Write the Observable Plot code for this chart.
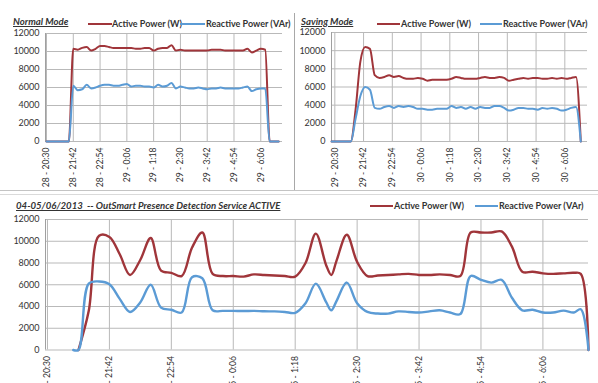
<!DOCTYPE html>
<html>
<head>
<meta charset="utf-8">
<script src="https://cdn.jsdelivr.net/npm/d3@7"></script>
<script src="https://cdn.jsdelivr.net/npm/@observablehq/plot@0.6"></script>
<style>
  html, body { margin: 0; padding: 0; background: #fff; }
  body { width: 598px; height: 383px; overflow: hidden; position: relative; font-family: Lato, "Open Sans", sans-serif; color: #333; }
  .abs { position: absolute; }
  .title { font-weight: bold; font-style: italic; text-decoration: underline; font-size: 9.6px; line-height: 10px; white-space: nowrap; color: #333; }
  .leg { font-weight: bold; font-size: 9px; line-height: 9px; white-space: nowrap; color: #333; }
  .sw { height: 2px; }
</style>
</head>
<body>
<div id="tl" class="abs" style="left:0;top:24px"></div>
<div id="tr" class="abs" style="left:298px;top:24px"></div>
<div id="bt" class="abs" style="left:0;top:212px"></div>

<div class="abs" style="left:294px;top:13px;width:1px;height:177px;background:#a8a8a8"></div>
<div class="abs" style="left:0;top:190px;width:598px;height:1px;background:#c4c4c4"></div>
<div class="abs" style="left:0;top:194px;width:598px;height:1px;background:#dadada"></div>

<div class="abs title" style="left:13px;top:16.5px">Normal Mode</div>
<div class="abs sw" style="left:88px;top:22.5px;width:24px;background:#a0353a"></div>
<div class="abs leg" style="left:112px;top:18.5px">Active Power (W)</div>
<div class="abs sw" style="left:180px;top:22.5px;width:25px;background:#5b9bd5"></div>
<div class="abs leg" style="left:206px;top:18.5px">Reactive Power (VAr)</div>

<div class="abs title" style="left:301px;top:16.5px">Saving Mode</div>
<div class="abs sw" style="left:377px;top:22.5px;width:23px;background:#a0353a"></div>
<div class="abs leg" style="left:401px;top:18.5px">Active Power (W)</div>
<div class="abs sw" style="left:480px;top:22.5px;width:22px;background:#5b9bd5"></div>
<div class="abs leg" style="left:503px;top:18.5px">Reactive Power (VAr)</div>

<div class="abs title" style="left:16px;top:201px">04-05/06/2013&nbsp; -- OutSmart Presence Detection Service ACTIVE</div>
<div class="abs sw" style="left:370px;top:205px;width:23px;background:#a0353a"></div>
<div class="abs leg" style="left:394px;top:201px">Active Power (W)</div>
<div class="abs sw" style="left:475px;top:205px;width:23px;background:#5b9bd5"></div>
<div class="abs leg" style="left:499px;top:201px">Reactive Power (VAr)</div>

<script>
const RED = "#a0353a";
const BLUE = "#5b9bd5";
const GRID = "#b9b9b9";

const yTicks = [0, 2000, 4000, 6000, 8000, 10000, 12000];
const tickTimes = [0, 72, 144, 216, 288, 360, 432, 504, 576];

const normalLabels = ["28 - 20:30","28 - 21:42","28 - 22:54","29 - 0:06","29 - 1:18","29 - 2:30","29 - 3:42","29 - 4:54","29 - 6:06"];
const savingLabels = ["29 - 20:30","29 - 21:42","29 - 22:54","30 - 0:06","30 - 1:18","30 - 2:30","30 - 3:42","30 - 4:54","30 - 6:06"];
const activeLabels = ["4 - 20:30","4 - 21:42","4 - 22:54","5 - 0:06","5 - 1:18","5 - 2:30","5 - 3:42","5 - 4:54","5 - 6:06"];

// minutes after 20:30
const normalTimes = [0,12,24,36,48,60,72,84,96,108,120,132,144,156,168,180,192,204,216,228,240,252,264,276,288,300,312,324,336,348,360,372,384,396,408,420,432,444,456,468,480,492,504,516,528,540,552,564,576,588,600,612,624];
const normalActive = [0,0,0,0,0,0,10300,10200,10400,10500,10100,10300,10600,10600,10500,10400,10400,10400,10400,10400,10300,10300,10400,10400,10100,10300,10400,10400,10700,10100,10200,10100,10100,10100,10100,10100,10100,10200,10200,10200,10100,10100,10100,10100,10100,10300,9900,10100,10300,10200,0,0,0];
const normalReactive = [0,0,0,0,0,0,6200,5700,5800,6300,5900,6000,6200,6300,6300,6200,6200,6300,6400,6100,6200,6200,6100,6100,6000,6300,6100,6200,6500,5900,6100,6000,5900,5900,6000,5900,5800,5900,5900,6000,5900,5900,5900,5900,6000,6100,5600,5800,5900,5900,0,0,0];

const savingTimes = [-8,4,16,28,40,52,64,76,88,100,112,124,136,148,160,172,184,196,208,220,232,244,256,268,280,292,304,316,328,340,352,364,376,388,400,412,424,436,448,460,472,484,496,508,520,532,544,556,568,580,592,604,616];
const savingActive = [0,0,0,0,0,3500,8800,10400,10200,7300,7000,7100,7300,7100,7200,7000,6900,6900,7000,6900,6700,6800,6800,6800,6800,6900,7100,7000,6900,6900,6900,7000,7100,7000,7000,7100,7000,6700,6800,6900,7000,6900,7000,7000,6900,6900,7000,6900,7000,6900,7000,7100,0];
const savingReactive = [0,0,0,0,0,2500,5000,6000,5700,3700,3600,3800,3900,3700,3900,3800,3900,3800,3600,3600,3500,3500,3600,3600,3600,3900,3700,3800,3600,3800,3600,3800,3700,3700,3900,3900,3700,3400,3500,3700,3700,3600,3600,3500,3700,3600,3700,3600,3400,3500,3700,3800,0];

const activeTimes = [30,36,48,60,72,84,96,108,120,132,144,156,168,180,192,204,216,228,240,252,264,276,288,300,312,324,330,336,348,360,372,384,396,408,420,432,444,456,468,480,492,504,516,528,540,552,564,576,588,600,612,620,629];
const activeActive = [null,0,3600,10500,10400,8800,6900,8300,10300,7300,7100,6800,9400,10800,7000,6800,6800,6750,6950,6900,6850,6800,6750,8000,10700,7800,6900,8200,10600,8100,6800,6850,6900,6950,7000,6900,6900,6950,6900,6800,10800,10800,10800,10900,9500,7200,7200,7050,7000,7050,7100,7000,0];
const activeReactive = [0,0,6100,6300,6050,4700,3500,4400,6000,3900,3700,3450,6700,6600,3650,3600,3600,3580,3600,3560,3550,3500,3420,4300,6100,4400,3650,4500,6200,4300,3500,3350,3350,3550,3500,3450,3550,3650,3450,3300,6800,6450,6200,6450,4800,3650,3700,3450,3450,3620,3450,3750,0];

function panel({times, active, reactive, labels, xDomain, width, height, mt, mr, mb, ml, curve, sw}) {
  const data = times.map((t, i) => ({t, a: active[i], r: reactive[i]}));
  const fmt = d => labels[tickTimes.indexOf(d)];
  return Plot.plot({
    width, height,
    marginTop: mt, marginRight: mr, marginBottom: mb, marginLeft: ml,
    style: {fontFamily: "Lato, 'Open Sans', sans-serif", fontSize: "9px", color: "#333", background: "transparent", overflow: "visible"},
    x: {domain: xDomain, label: null},
    y: {domain: [0, 12000], label: null},
    marks: [
      Plot.gridY(yTicks, {stroke: GRID, strokeOpacity: 1}),
      Plot.gridX(tickTimes, {stroke: GRID, strokeOpacity: 1}),
      Plot.ruleX([xDomain[0]], {stroke: "#a0a0a0"}),
      Plot.axisY(yTicks, {tickSize: 0, tickPadding: 6, fontSize: 9, label: null, tickFormat: d => String(d)}),
      Plot.axisX(tickTimes, {tickSize: 0, tickPadding: 6, tickRotate: -90, fontSize: 8.6, label: null, tickFormat: fmt}),
      Plot.lineY(data, {x: "t", y: "a", stroke: RED, strokeWidth: sw, curve}),
      Plot.lineY(data, {x: "t", y: "r", stroke: BLUE, strokeWidth: sw, curve})
    ]
  });
}

document.getElementById("tl").append(panel({
  times: normalTimes, active: normalActive, reactive: normalReactive, labels: normalLabels,
  xDomain: [-2.7, 634.4], width: 294, height: 166, mt: 9, mr: 12, mb: 49, ml: 45, curve: "monotone-x", sw: 2
}));
document.getElementById("tr").append(panel({
  times: savingTimes, active: savingActive, reactive: savingReactive, labels: savingLabels,
  xDomain: [-8.3, 632.8], width: 300, height: 166, mt: 8, mr: 11, mb: 49, ml: 33, curve: "monotone-x", sw: 2
}));
document.getElementById("bt").append(panel({
  times: activeTimes, active: activeActive, reactive: activeReactive, labels: activeLabels,
  xDomain: [-2.3, 629], width: 598, height: 200, mt: 7, mr: 10, mb: 62.5, ml: 45, curve: "catmull-rom", sw: 2.4
}));
</script>
</body>
</html>
